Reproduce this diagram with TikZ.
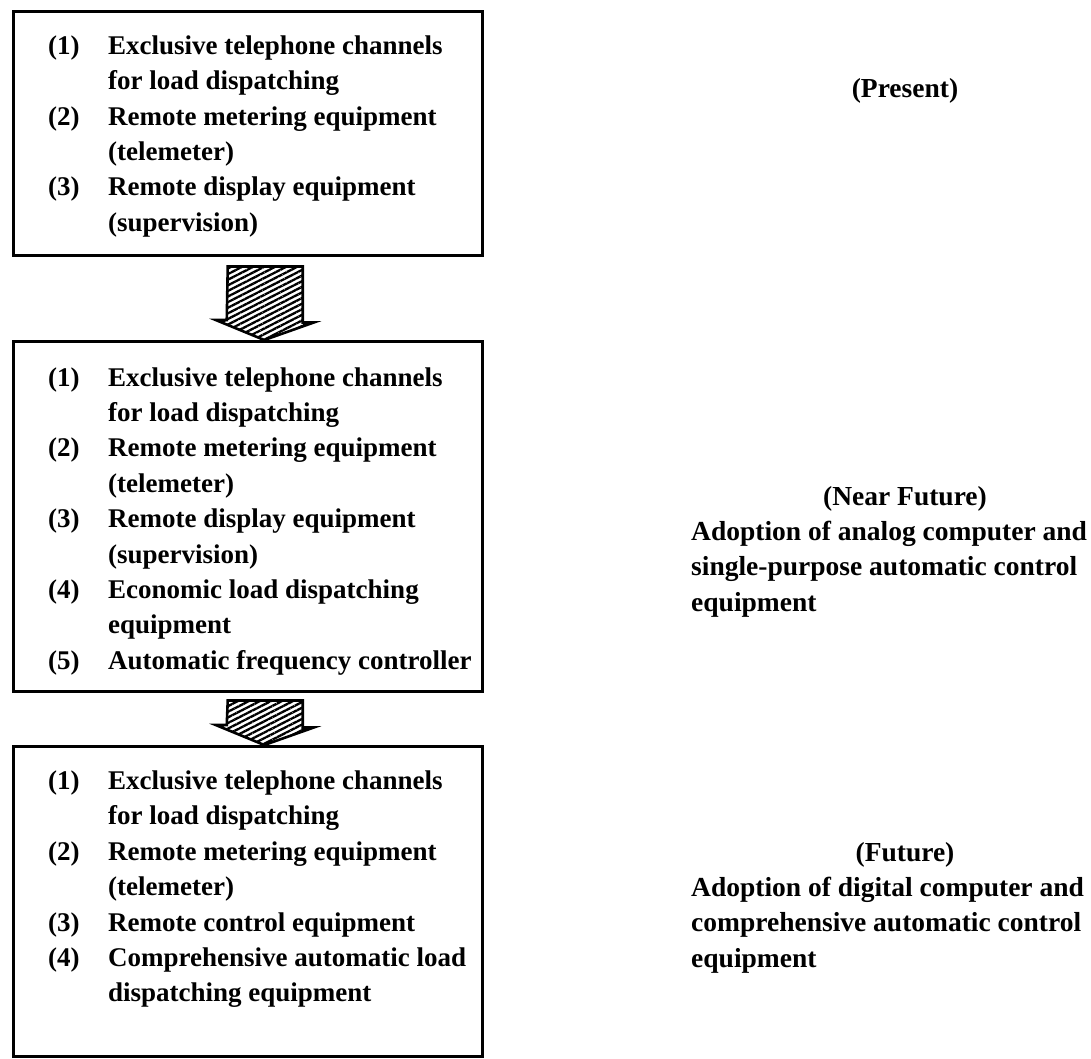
\documentclass[tikz,border=0pt]{standalone}
\usepackage{fontspec}
\setmainfont{Liberation Serif}
\usetikzlibrary{calc,patterns.meta}
\newcommand\itm[2]{\makebox[60pt][l]{#1}#2}
\newcommand\cnt[1]{\hspace*{60pt}#1}
\tikzset{
  txtfont/.style={font=\fontsize{27.5}{35.4}\selectfont\bfseries},
  boxfont/.style={font=\fontsize{27}{35.4}\selectfont\bfseries},
  listbox/.style={draw, line width=2.5pt, anchor=north west, minimum width=469pt, inner sep=0pt},
  listtext/.style={boxfont, anchor=west, align=left, inner sep=0pt},
  rtitle/.style={txtfont, anchor=base, inner sep=0pt},
  rbody/.style={txtfont, anchor=north west, align=left, inner sep=0pt},
  hatcharrow/.style={line width=2.6pt, line join=miter, pattern={Lines[angle=27,distance=5pt,line width=2.3pt]}, pattern color=black}
}
\begin{document}
\begin{tikzpicture}[x=1pt,y=-1pt]
\fill[white] (0,0) rectangle (1091,1058);
\useasboundingbox (0,0) rectangle (1091,1058);

% boxes
\node[listbox, minimum height=244pt] (b1) at (12,10) {};
\node[listbox, minimum height=350pt] (b2) at (12,340) {};
\node[listbox, minimum height=310pt] (b3) at (12,745) {};

\node[listtext] (t1) at ($(b1.west)+(36,3)$) {%
\itm{(1)}{Exclusive telephone channels}\\
\cnt{for load dispatching}\\
\itm{(2)}{Remote metering equipment}\\
\cnt{(telemeter)}\\
\itm{(3)}{Remote display equipment}\\
\cnt{(supervision)}};

\node[listtext] (t2) at ($(b2.west)+(36,5)$) {%
\itm{(1)}{Exclusive telephone channels}\\
\cnt{for load dispatching}\\
\itm{(2)}{Remote metering equipment}\\
\cnt{(telemeter)}\\
\itm{(3)}{Remote display equipment}\\
\cnt{(supervision)}\\
\itm{(4)}{Economic load dispatching}\\
\cnt{equipment}\\
\itm{(5)}{Automatic frequency controller}};

\node[listtext] (t3) at ($(b3.west)+(36,-12)$) {%
\itm{(1)}{Exclusive telephone channels}\\
\cnt{for load dispatching}\\
\itm{(2)}{Remote metering equipment}\\
\cnt{(telemeter)}\\
\itm{(3)}{Remote control equipment}\\
\itm{(4)}{Comprehensive automatic load}\\
\cnt{dispatching equipment}};

% hatched block arrows
\draw[hatcharrow] ($(b1.south)+(-20,10)$) -- ++(75,0) -- ++(0,56) -- ++(11,0)
  -- ($(b2.north)+(16.5,0)$) -- ++(-48.5,-20) -- ++(11,0) -- cycle;
\draw[hatcharrow] ($(b2.south)+(-20,8)$) -- ++(75,0) -- ++(0,27) -- ++(11,0)
  -- ($(b3.north)+(16.5,0)$) -- ++(-48.5,-20) -- ++(11,0) -- cycle;

% right-hand notes
\node[rtitle] (pr) at (905,97) {(Present)};
\node[rtitle] (nf) at (905,505) {(Near Future)};
\node[rbody] (nfb) at (691,521) {Adoption of analog computer and\\
single-purpose automatic control\\
equipment};
\node[rtitle] (fu) at (905,861) {(Future)};
\node[rbody] (fub) at (691,877) {Adoption of digital computer and\\
comprehensive automatic control\\
equipment};
\end{tikzpicture}
\end{document}
